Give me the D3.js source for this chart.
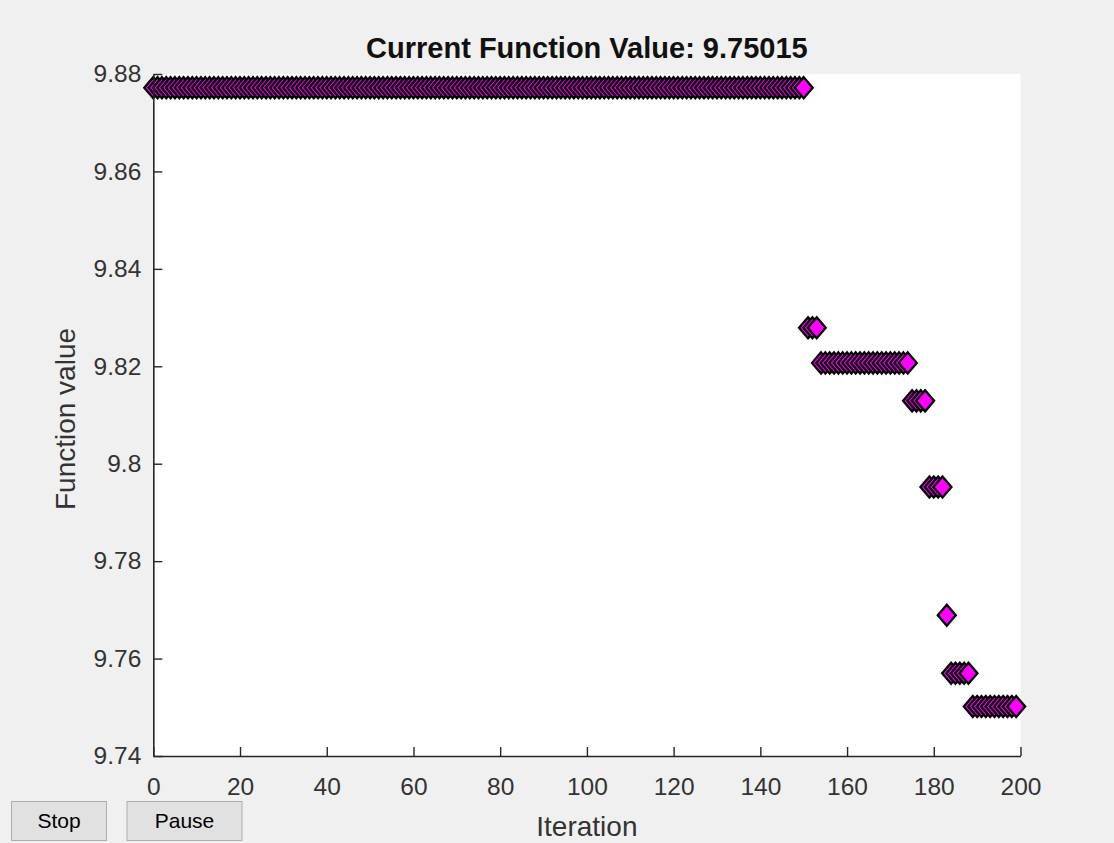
<!DOCTYPE html>
<html>
<head>
<meta charset="utf-8">
<script src="https://cdn.jsdelivr.net/npm/d3@7"></script>
<style>
  html, body { margin: 0; padding: 0; background: #f0f0f0; }
  svg { display: block; font-family: "Liberation Sans", Arial, Helvetica, sans-serif; }
</style>
</head>
<body>
<svg id="chart" width="1114" height="843"></svg>
<script>
// Best function value recorded at each iteration (iterations 0..199)
const functionValues = [
  9.8772, 9.8772, 9.8772, 9.8772, 9.8772, 9.8772, 9.8772, 9.8772, 9.8772, 9.8772,
  9.8772, 9.8772, 9.8772, 9.8772, 9.8772, 9.8772, 9.8772, 9.8772, 9.8772, 9.8772,
  9.8772, 9.8772, 9.8772, 9.8772, 9.8772, 9.8772, 9.8772, 9.8772, 9.8772, 9.8772,
  9.8772, 9.8772, 9.8772, 9.8772, 9.8772, 9.8772, 9.8772, 9.8772, 9.8772, 9.8772,
  9.8772, 9.8772, 9.8772, 9.8772, 9.8772, 9.8772, 9.8772, 9.8772, 9.8772, 9.8772,
  9.8772, 9.8772, 9.8772, 9.8772, 9.8772, 9.8772, 9.8772, 9.8772, 9.8772, 9.8772,
  9.8772, 9.8772, 9.8772, 9.8772, 9.8772, 9.8772, 9.8772, 9.8772, 9.8772, 9.8772,
  9.8772, 9.8772, 9.8772, 9.8772, 9.8772, 9.8772, 9.8772, 9.8772, 9.8772, 9.8772,
  9.8772, 9.8772, 9.8772, 9.8772, 9.8772, 9.8772, 9.8772, 9.8772, 9.8772, 9.8772,
  9.8772, 9.8772, 9.8772, 9.8772, 9.8772, 9.8772, 9.8772, 9.8772, 9.8772, 9.8772,
  9.8772, 9.8772, 9.8772, 9.8772, 9.8772, 9.8772, 9.8772, 9.8772, 9.8772, 9.8772,
  9.8772, 9.8772, 9.8772, 9.8772, 9.8772, 9.8772, 9.8772, 9.8772, 9.8772, 9.8772,
  9.8772, 9.8772, 9.8772, 9.8772, 9.8772, 9.8772, 9.8772, 9.8772, 9.8772, 9.8772,
  9.8772, 9.8772, 9.8772, 9.8772, 9.8772, 9.8772, 9.8772, 9.8772, 9.8772, 9.8772,
  9.8772, 9.8772, 9.8772, 9.8772, 9.8772, 9.8772, 9.8772, 9.8772, 9.8772, 9.8772,
  9.8772, 9.8279, 9.8279, 9.8279, 9.8207, 9.8207, 9.8207, 9.8207, 9.8207, 9.8207,
  9.8207, 9.8207, 9.8207, 9.8207, 9.8207, 9.8207, 9.8207, 9.8207, 9.8207, 9.8207,
  9.8207, 9.8207, 9.8207, 9.8207, 9.8207, 9.8129, 9.8129, 9.8129, 9.8129, 9.7952,
  9.7952, 9.7952, 9.7952, 9.7689, 9.7570, 9.7570, 9.7570, 9.7570, 9.7570, 9.75015,
  9.75015, 9.75015, 9.75015, 9.75015, 9.75015, 9.75015, 9.75015, 9.75015, 9.75015, 9.75015
];
const currentValueLabel = "9.75015";

const xTickValues = [0, 20, 40, 60, 80, 100, 120, 140, 160, 180, 200];
const yTickValues = [9.74, 9.76, 9.78, 9.80, 9.82, 9.84, 9.86, 9.88];
const yTickLabels = ["9.74", "9.76", "9.78", "9.8", "9.82", "9.84", "9.86", "9.88"];
const buttonLabels = ["Stop", "Pause"];

const svg = d3.select("#chart");
const W = 1114, H = 843;
const plot = { left: 153.3, right: 1020.5, top: 74, bottom: 756 };
const axisColor = "#262626";

svg.append("rect").attr("width", W).attr("height", H).attr("fill", "#f0f0f0");

const x = d3.scaleLinear().domain([0, 200]).range([plot.left, plot.right]);
const y = d3.scaleLinear().domain([9.74, 9.88]).range([plot.bottom, plot.top]);

// white plotting area
svg.append("rect")
  .attr("x", plot.left).attr("y", plot.top)
  .attr("width", plot.right - plot.left).attr("height", plot.bottom - plot.top)
  .attr("fill", "#ffffff");

// markers: diamonds, later iterations drawn on top
const hw = 9, hh = 10.5;
const diamond = `M0,${-hh}L${hw},0L0,${hh}L${-hw},0Z`;
svg.append("g")
  .selectAll("path")
  .data(functionValues)
  .join("path")
  .attr("d", diamond)
  .attr("transform", (d, i) => `translate(${x(i)},${y(d)})`)
  .attr("fill", "#ff00ff")
  .attr("stroke", "#000000")
  .attr("stroke-width", 2.3)
  .attr("stroke-linejoin", "miter");

// axes
const xAxis = d3.axisBottom(x)
  .tickValues(xTickValues)
  .tickFormat(d3.format("d"))
  .tickSizeInner(-9).tickSizeOuter(0).tickPadding(22);
const yAxis = d3.axisLeft(y)
  .tickValues(yTickValues)
  .tickFormat((d, i) => yTickLabels[i])
  .tickSizeInner(-9).tickSizeOuter(0).tickPadding(12);

function styleAxis(g) {
  g.select(".domain").attr("stroke", axisColor).attr("stroke-width", 1.6);
  g.selectAll(".tick line").attr("stroke", axisColor).attr("stroke-width", 1.4);
  g.selectAll(".tick text")
    .attr("fill", "#333333")
    .style("font-size", "24.5px")
    .style("font-family", "'Liberation Sans', Arial, sans-serif");
}

svg.append("g")
  .attr("transform", `translate(0,${plot.bottom})`)
  .call(xAxis)
  .call(styleAxis);

svg.append("g")
  .attr("transform", `translate(${plot.left},0)`)
  .call(yAxis)
  .call(styleAxis);

// title and axis labels
svg.append("text")
  .attr("x", (plot.left + plot.right) / 2)
  .attr("y", 58)
  .attr("text-anchor", "middle")
  .attr("font-weight", "bold")
  .attr("font-size", 29)
  .attr("fill", "#111111")
  .text(`Current Function Value: ${currentValueLabel}`);

svg.append("text")
  .attr("x", (plot.left + plot.right) / 2)
  .attr("y", 836)
  .attr("text-anchor", "middle")
  .attr("font-size", 28)
  .attr("fill", "#333333")
  .text("Iteration");

svg.append("text")
  .attr("transform", `translate(75,${(plot.top + plot.bottom) / 2 + 4}) rotate(-90)`)
  .attr("text-anchor", "middle")
  .attr("font-size", 28)
  .attr("fill", "#333333")
  .text("Function value");

// control buttons
const buttons = [
  { label: buttonLabels[0], x: 11.5, w: 95 },
  { label: buttonLabels[1], x: 127, w: 115 }
];
const btn = svg.append("g").selectAll("g").data(buttons).join("g");
btn.append("rect")
  .attr("x", d => d.x).attr("y", 801.5)
  .attr("width", d => d.w).attr("height", 39)
  .attr("fill", "#e1e1e1")
  .attr("stroke", "#adadad").attr("stroke-width", 1);
btn.append("text")
  .attr("x", d => d.x + d.w / 2)
  .attr("y", 828)
  .attr("text-anchor", "middle")
  .attr("font-size", 21)
  .attr("fill", "#000000")
  .text(d => d.label);
</script>
</body>
</html>
